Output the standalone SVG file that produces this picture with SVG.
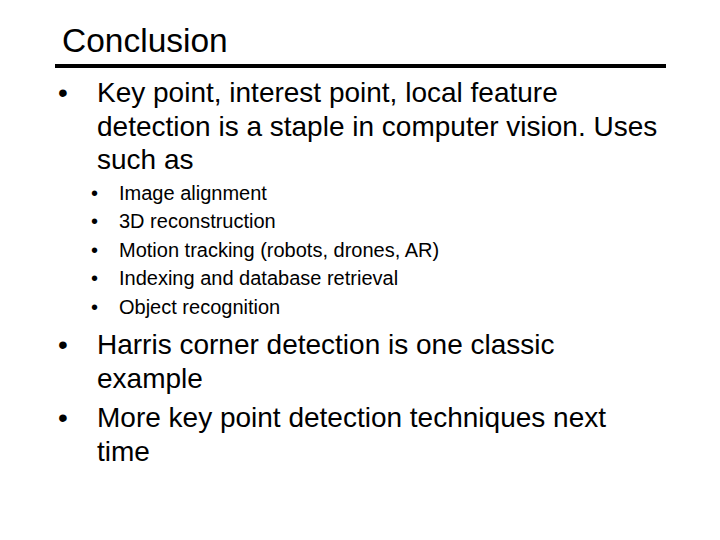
<svg xmlns="http://www.w3.org/2000/svg" width="720" height="540" viewBox="0 0 720 540">
<style>
text{font-family:"Liberation Sans",Arial,sans-serif;fill:#000}
.t{font-size:33.5px}
.b{font-size:28px}
.s{font-size:20px}
</style>
<rect width="720" height="540" fill="#fff"/>
<g id="title"><text class="t" x="62" y="52">Conclusion</text>
<rect x="55" y="64" width="611" height="4" fill="#000"/></g>
<g id="bullets">
<text class="b" x="58" y="102">•</text>
<text class="b" x="97" y="102">Key point, interest point, local feature</text>
<text class="b" x="97" y="136">detection is a staple in computer vision. Uses</text>
<text class="b" x="97" y="169">such as</text>
<text class="s" x="91" y="200">•</text><text class="s" x="119" y="200">Image alignment</text>
<text class="s" x="91" y="228">•</text><text class="s" x="119" y="228">3D reconstruction</text>
<text class="s" x="91" y="257">•</text><text class="s" x="119" y="257">Motion tracking (robots, drones, AR)</text>
<text class="s" x="91" y="285">•</text><text class="s" x="119" y="285">Indexing and database retrieval</text>
<text class="s" x="91" y="314">•</text><text class="s" x="119" y="314">Object recognition</text>
<text class="b" x="58" y="354">•</text>
<text class="b" x="97" y="354">Harris corner detection is one classic</text>
<text class="b" x="97" y="388">example</text>
<text class="b" x="58" y="427">•</text>
<text class="b" x="97" y="427">More key point detection techniques next</text>
<text class="b" x="97" y="461">time</text>
</g>
</svg>
